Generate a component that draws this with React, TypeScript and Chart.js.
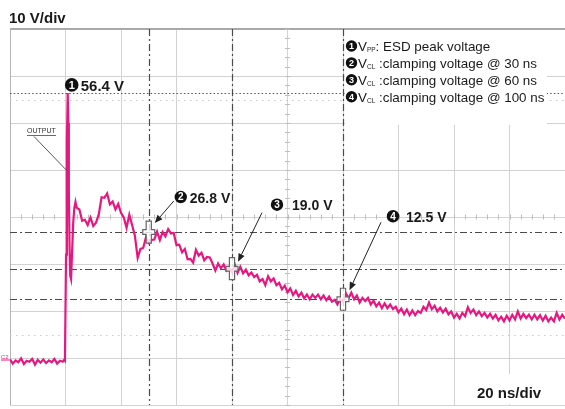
import React, { useEffect, useRef } from "react";
import { Chart, registerables } from "chart.js";

Chart.register(...registerables);

// ---- axes (oscilloscope: 20 ns/div, 10 V/div) ----
const TIME_MIN = -20;
const TIME_MAX = 180;
const TIME_STEP = 20;
const VOLT_MIN = -10;
const VOLT_MAX = 70;
const VOLT_STEP = 10;
const VOLT_LABEL = "10 V/div";
const TIME_LABEL = "20 ns/div";

// ---- waveform ----
// baseline before the ESD strike, 1 ns steps starting at -20 ns
const baselineStart = -20;
const baselineV = [
  -0.3, -1.2, -0.5, -0.9, -0.1, -1.3, -0.6, -0.8, -0.2, -1.4,
  -0.4, -1.0, -0.3, -1.1, -0.5, -0.9, -0.2, -1.2, -0.6, -0.8,
];
// the ESD spike itself
const spikeT = [-0.5, -0.2, 0.2, 0.5, 0.8, 1.0, 1.2, 1.45, 1.7, 2.0, 2.4, 2.8, 3.2, 3.6];
const spikeV = [-0.4, -0.6, 22, 46, 56.4, 50, 36, 24, 17.5, 16.8, 23, 29, 32, 33.2];
// clamped decay, 1 ns steps starting at 4 ns
const decayStart = 4;
const decayV = [
  32.0, 31.6, 29.2, 29.4, 28.3, 29.9, 28.1, 28.8, 30.6, 34.2,
  34.1, 35.0, 32.7, 33.3, 31.6, 32.8, 30.9, 29.9, 27.7, 30.5,
  28.3, 26.0, 21.3, 23.2, 23.4, 25.7, 24.5, 25.1, 25.2, 26.9,
  25.1, 26.8, 25.9, 27.4, 26.5, 26.6, 24.0, 24.1, 22.5, 23.2,
  21.0, 21.1, 20.3, 23.0, 21.8, 22.4, 20.8, 21.5, 21.4, 20.1,
  18.6, 20.1, 19.1, 19.9, 18.6, 19.2, 18.3, 19.9, 18.1, 19.4,
  18.0, 18.8, 17.6, 18.2, 17.2, 17.7, 16.3, 16.8, 15.5, 17.4,
  16.3, 16.9, 15.5, 16.0, 14.6, 15.4, 14.0, 14.8, 13.4, 14.3,
  13.1, 13.9, 12.7, 13.5, 12.5, 13.5, 12.8, 13.5, 12.5, 13.3,
  12.3, 13.1, 12.0, 12.4, 11.4, 12.6, 11.9, 13.8, 12.7, 13.9,
  12.5, 13.3, 11.8, 12.8, 12.1, 12.8, 11.4, 12.2, 11.0, 11.8,
  10.6, 11.6, 10.6, 11.4, 10.4, 10.9, 9.7, 10.5, 9.3, 10.3,
  9.1, 10.1, 9.1, 10.0, 9.6, 10.9, 10.2, 11.8, 10.4, 11.1,
  9.9, 10.7, 9.7, 10.5, 9.3, 9.9, 8.6, 9.4, 8.4, 9.6,
  8.9, 10.8, 9.6, 10.3, 9.1, 9.9, 8.9, 9.6, 8.6, 9.4,
  8.4, 9.2, 8.0, 8.8, 7.8, 9.0, 8.0, 9.2, 8.2, 9.9,
  8.4, 9.4, 8.5, 9.2, 8.2, 9.2, 8.2, 9.1, 8.0, 9.0,
  7.8, 8.6, 7.8, 9.6, 8.2, 9.2, 8.4,
];

// ---- measurements ----
const peakT = 0.8;
const peakV = 56.4;
const cursorT = [30, 60, 100];
const cursorV = [26.8, 19.0, 12.5];
const legendNames = ["PP", "CL", "CL", "CL"];
const legendTexts = [
  ": ESD peak voltage",
  " :clamping voltage @ 30 ns",
  " :clamping voltage @ 60 ns",
  " :clamping voltage @ 100 ns",
];

const FONT = '"Liberation Sans", Arial, Helvetica, sans-serif';
const TRACE = "#e6177f";

type Ctx = CanvasRenderingContext2D;

function seg(ctx: Ctx, x1: number, y1: number, x2: number, y2: number, color: string, w: number, dash: number[] = []) {
  ctx.save();
  ctx.beginPath();
  ctx.strokeStyle = color;
  ctx.lineWidth = w;
  ctx.setLineDash(dash);
  ctx.moveTo(x1, y1);
  ctx.lineTo(x2, y2);
  ctx.stroke();
  ctx.restore();
}

function badge(ctx: Ctx, cx: number, cy: number, r: number, digit: string) {
  ctx.save();
  ctx.beginPath();
  ctx.arc(cx, cy, r, 0, Math.PI * 2);
  ctx.fillStyle = "#111";
  ctx.fill();
  ctx.fillStyle = "#fff";
  ctx.font = `bold ${Math.round(r * 1.55)}px ${FONT}`;
  ctx.textAlign = "center";
  ctx.textBaseline = "middle";
  ctx.fillText(digit, cx, cy + 0.7);
  ctx.restore();
}

function arrow(ctx: Ctx, x1: number, y1: number, x2: number, y2: number) {
  const a = Math.atan2(y2 - y1, x2 - x1);
  const L = 8;
  const W = 3.3;
  const bx = x2 - L * Math.cos(a);
  const by = y2 - L * Math.sin(a);
  ctx.save();
  ctx.strokeStyle = "#222";
  ctx.fillStyle = "#222";
  ctx.lineWidth = 1;
  ctx.beginPath();
  ctx.moveTo(x1, y1);
  ctx.lineTo(bx, by);
  ctx.stroke();
  ctx.beginPath();
  ctx.moveTo(x2, y2);
  ctx.lineTo(bx + W * Math.sin(a), by - W * Math.cos(a));
  ctx.lineTo(bx - W * Math.sin(a), by + W * Math.cos(a));
  ctx.closePath();
  ctx.fill();
  ctx.restore();
}

function cursorMark(ctx: Ctx, x: number, y: number) {
  const a = 2.6, b = 11, c = 6, d = 2.4;
  ctx.save();
  ctx.beginPath();
  ctx.moveTo(x - a, y - b);
  ctx.lineTo(x + a, y - b);
  ctx.lineTo(x + a, y - d);
  ctx.lineTo(x + c, y - d);
  ctx.lineTo(x + c, y + d);
  ctx.lineTo(x + a, y + d);
  ctx.lineTo(x + a, y + b);
  ctx.lineTo(x - a, y + b);
  ctx.lineTo(x - a, y + d);
  ctx.lineTo(x - c, y + d);
  ctx.lineTo(x - c, y - d);
  ctx.lineTo(x - a, y - d);
  ctx.closePath();
  ctx.fillStyle = "rgba(255,255,255,0.8)";
  ctx.fill();
  ctx.strokeStyle = "#666";
  ctx.lineWidth = 1.2;
  ctx.stroke();
  ctx.restore();
}

// label placement relative to each cursor point (pixels)
const labelLayout = [
  { badge: [32, -35], textGap: 9, from: [25, -31], to: [6, -9] },
  { badge: [45, -64], textGap: 15, from: [30, -56], to: [6, -7] },
  { badge: [50, -83], textGap: 13, from: [38, -77], to: [6.5, -9] },
];

const DASHDOT = [7, 3, 2, 3];

const overlay = {
  id: "scopeOverlay",
  beforeDatasetsDraw(chart: any) {
    const ctx: Ctx = chart.ctx;
    const { left, right, top, bottom } = chart.chartArea;
    const xs = chart.scales.x;
    const ys = chart.scales.y;
    // borders
    seg(ctx, left, top, right, top, "#a9a9a9", 2);
    seg(ctx, left + 0.5, top, left + 0.5, bottom, "#b5b5b5", 1);
    // minor ticks on the centre graticule lines
    const cx = xs.getPixelForValue((TIME_MIN + TIME_MAX) / 2);
    const cy = ys.getPixelForValue((VOLT_MIN + VOLT_MAX) / 2);
    for (let t = TIME_MIN; t <= TIME_MAX; t += TIME_STEP / 5) {
      const px = Math.round(xs.getPixelForValue(t)) + 0.5;
      seg(ctx, px, cy - 2.5, px, cy + 2.5, "#bdbdbd", 1);
    }
    for (let v = VOLT_MIN; v <= VOLT_MAX; v += VOLT_STEP / 5) {
      const py = Math.round(ys.getPixelForValue(v)) + 0.5;
      seg(ctx, cx - 2.5, py, cx + 2.5, py, "#bdbdbd", 1);
    }
    // faint 0%/100% rise-time dotted lines (±2.5 div)
    [cy - 2.5 * (bottom - top) / 8, cy + 2.5 * (bottom - top) / 8].forEach((py) => {
      seg(ctx, left, Math.round(py) + 0.5, right, Math.round(py) + 0.5, "#c9c9c9", 1, [1.5, 4.5]);
    });
    // peak level dotted line
    const py = Math.round(ys.getPixelForValue(peakV)) + 0.5;
    seg(ctx, left, py, right, py, "#555", 1.2, [1.5, 2.2]);
    // cursor dash-dot lines
    cursorT.forEach((t) => {
      const px = Math.round(xs.getPixelForValue(t)) + 0.5;
      seg(ctx, px, top, px, bottom, "#4a4a4a", 1.2, DASHDOT);
    });
    cursorV.forEach((v) => {
      const p = Math.round(ys.getPixelForValue(v)) + 0.5;
      seg(ctx, left, p, right, p, "#4a4a4a", 1.2, DASHDOT);
    });
    // white boxes for legend and time scale
    const lx = xs.getPixelForValue(cursorT[2]);
    ctx.save();
    ctx.fillStyle = "#fff";
    ctx.fillRect(lx + 2, top + 1, 547 - lx - 2, 95);
    ctx.fillRect(460, bottom - 31, right - 460, 30);
    ctx.restore();
    // ground marker
    const gy = ys.getPixelForValue(0);
    ctx.save();
    ctx.fillStyle = TRACE;
    ctx.font = `6px ${FONT}`;
    ctx.textBaseline = "middle";
    ctx.fillText("C2", 1, gy - 1);
    ctx.restore();
    seg(ctx, 1, gy + 2, left, gy + 2, TRACE, 1);
  },
  afterDatasetsDraw(chart: any) {
    const ctx: Ctx = chart.ctx;
    const { left, top } = chart.chartArea;
    const xs = chart.scales.x;
    const ys = chart.scales.y;

    // OUTPUT tag
    ctx.save();
    ctx.fillStyle = "#333";
    ctx.font = `7px ${FONT}`;
    ctx.fillText("OUTPUT", left + 17, top + 104);
    ctx.restore();
    seg(ctx, left + 17, top + 106.5, left + 46, top + 106.5, "#444", 0.8);
    seg(ctx, left + 24, top + 107.5, xs.getPixelForValue(peakT) - 1, ys.getPixelForValue(40) + 0.5, "#444", 0.9);

    // peak label
    const pxp = xs.getPixelForValue(peakT);
    const pyp = ys.getPixelForValue(peakV);
    badge(ctx, pxp + 4, pyp - 8, 6.8, "1");
    ctx.save();
    ctx.fillStyle = "#1a1a1a";
    ctx.font = `bold 15px ${FONT}`;
    ctx.fillText(`${peakV.toFixed(1)} V`, pxp + 13, pyp - 2);
    ctx.restore();

    // cursors + labels
    cursorT.forEach((t, i) => {
      const x = xs.getPixelForValue(t);
      const y = ys.getPixelForValue(cursorV[i]);
      cursorMark(ctx, x, y);
      const L = labelLayout[i];
      const bx = x + L.badge[0];
      const by = y + L.badge[1];
      badge(ctx, bx, by, 6.2, String(i + 2));
      ctx.save();
      ctx.fillStyle = "#1a1a1a";
      ctx.font = `bold 14px ${FONT}`;
      ctx.fillText(`${cursorV[i].toFixed(1)} V`, bx + L.textGap, by + 5.5);
      ctx.restore();
      arrow(ctx, x + L.from[0], y + L.from[1], x + L.to[0], y + L.to[1]);
    });

    // legend
    const lx = xs.getPixelForValue(cursorT[2]) + 8.5;
    legendTexts.forEach((txt, i) => {
      const cy = top + 17 + i * 16.9;
      badge(ctx, lx, cy, 5.7, String(i + 1));
      ctx.save();
      ctx.fillStyle = "#1a1a1a";
      ctx.font = `13.4px ${FONT}`;
      let x = lx + 6.5;
      ctx.fillText("V", x, cy + 4.8);
      x += ctx.measureText("V").width;
      ctx.font = `6.5px ${FONT}`;
      ctx.fillText(legendNames[i], x, cy + 6.3);
      x += ctx.measureText(legendNames[i]).width;
      ctx.font = `13.4px ${FONT}`;
      ctx.fillText(txt, x, cy + 4.8);
      ctx.restore();
    });

    // scale labels
    ctx.save();
    ctx.fillStyle = "#1a1a1a";
    ctx.font = `bold 15px ${FONT}`;
    ctx.fillText(VOLT_LABEL, 9, 23);
    ctx.fillText(TIME_LABEL, 477, 398);
    ctx.restore();
  },
};

export default function App() {
  const ref = useRef<HTMLCanvasElement>(null);

  useEffect(() => {
    const canvas = ref.current;
    if (!canvas) return;
    const points: { x: number; y: number }[] = [];
    baselineV.forEach((v, i) => points.push({ x: baselineStart + i, y: v }));
    spikeT.forEach((t, i) => points.push({ x: t, y: spikeV[i] }));
    decayV.forEach((v, i) => points.push({ x: decayStart + i, y: v }));

    const chart = new Chart(canvas, {
      type: "line",
      data: {
        datasets: [
          {
            data: points,
            borderColor: TRACE,
            borderWidth: 2.2,
            pointRadius: 0,
            tension: 0,
            fill: false,
          },
        ],
      },
      options: {
        animation: false,
        responsive: false,
        maintainAspectRatio: false,
        layout: { padding: { left: 10, top: 29, right: 0, bottom: 4 } },
        plugins: { legend: { display: false }, tooltip: { enabled: false } },
        scales: {
          x: {
            type: "linear",
            min: TIME_MIN,
            max: TIME_MAX,
            ticks: { display: false, stepSize: TIME_STEP },
            grid: { color: "#d2d2d2", lineWidth: 1, drawTicks: false },
            border: { display: false },
          },
          y: {
            type: "linear",
            min: VOLT_MIN,
            max: VOLT_MAX,
            ticks: { display: false, stepSize: VOLT_STEP },
            grid: { color: "#d2d2d2", lineWidth: 1, drawTicks: false },
            border: { display: false },
          },
        },
      },
      plugins: [overlay],
    });
    return () => chart.destroy();
  }, []);

  return (
    <div style={{ position: "absolute", left: 0, top: 0, width: 565, height: 409, background: "#fff" }}>
      <canvas ref={ref} width={565} height={409} style={{ width: 565, height: 409, display: "block" }} />
    </div>
  );
}
